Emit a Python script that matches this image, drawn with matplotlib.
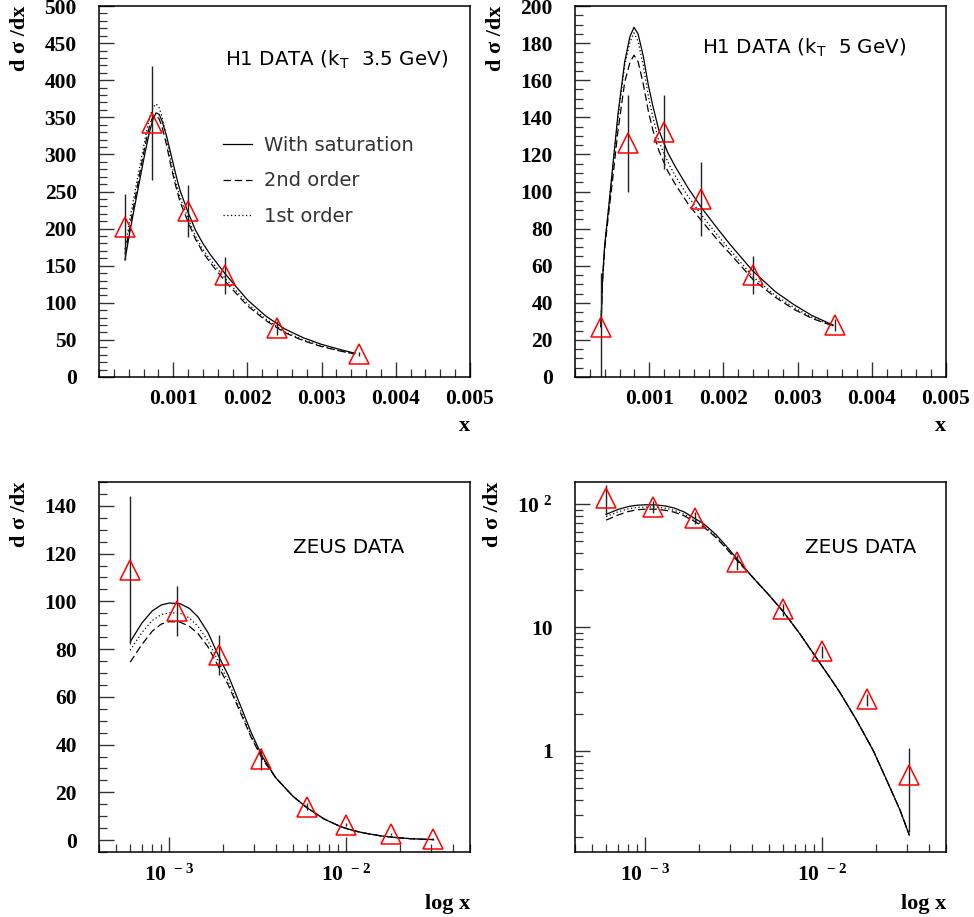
import numpy as np
import matplotlib
matplotlib.use('Agg')
import matplotlib.pyplot as plt
from matplotlib.ticker import MultipleLocator, FixedLocator, FuncFormatter, NullFormatter, LogLocator

plt.rcParams['font.family'] = 'Liberation Serif'
plt.rcParams['mathtext.fontset'] = 'custom'
plt.rcParams['mathtext.rm'] = 'Liberation Serif'
plt.rcParams['mathtext.bf'] = 'Liberation Serif:bold'
plt.rcParams['mathtext.it'] = 'DejaVu Sans'

# ---- H1 data (both panels share the x bins) ----
h1_x = [3.5e-4, 7.2e-4, 1.2e-3, 1.7e-3, 2.4e-3, 3.5e-3]
h1_35_y = [202, 342, 224, 137, 66, 31]
h1_35_err = [44, 77, 35, 25, 10, 3]
h1_5_y = [27, 126, 132, 96, 55, 28]
h1_5_err = [29, 26, 20, 20, 10, 3]

# curves for kT > 3.5 GeV
c35_x = [3.5e-4, 4.2e-4, 5.0e-4, 5.5e-4, 6.2e-4, 6.6e-4, 6.9e-4, 7.3e-4, 7.7e-4, 8.1e-4,
         8.5e-4, 9.1e-4, 9.7e-4, 1.03e-3, 1.09e-3, 1.2e-3, 1.3e-3, 1.4e-3, 1.5e-3, 1.7e-3,
         2.0e-3, 2.25e-3, 2.5e-3, 2.75e-3, 3.0e-3, 3.25e-3, 3.45e-3]
c35_sat = [158, 198, 240, 266, 302, 321, 334, 348, 356, 354,
           345, 325, 300, 275, 252, 222, 198, 180, 165, 139,
           104, 82, 65, 53, 44, 37, 32]
c35_2nd = [165, 205, 248, 275, 311, 330, 342, 351, 352, 348,
           337, 313, 284, 259, 237, 209, 186, 168, 154, 129,
           96, 76, 60, 49, 41, 35, 31]
c35_1st = [172, 215, 258, 284, 320, 340, 352, 364, 368, 363,
           350, 323, 290, 265, 243, 214, 190, 172, 158, 133,
           99, 78, 61, 50, 42, 35, 31]

# curves for kT > 5 GeV
c5_x = [3.5e-4, 3.7e-4, 4.0e-4, 4.5e-4, 5.0e-4, 5.8e-4, 6.7e-4, 7.4e-4, 7.95e-4, 8.5e-4,
        9.2e-4, 9.9e-4, 1.05e-3, 1.13e-3, 1.25e-3, 1.35e-3, 1.53e-3, 1.71e-3, 1.93e-3, 2.1e-3,
        2.4e-3, 2.7e-3, 2.95e-3, 3.2e-3, 3.48e-3]
c5_sat = [27, 52, 71, 90, 110, 142, 170, 183.5, 188.5, 185,
          173, 157, 146, 133, 121, 113.5, 101.5, 91, 79.5, 71,
          57, 46, 39, 33, 28]
c5_2nd = [27, 51, 69, 87, 104, 133, 159, 169.5, 173.5, 170,
          158, 143, 133, 122, 111, 104, 93, 84, 73.5, 66,
          52.5, 43, 36.5, 31.5, 27.5]
c5_1st = [27, 52, 71, 90, 109, 140, 168, 180.5, 185.5, 181,
          168, 151, 140, 127, 116, 108.5, 97, 87, 76, 68,
          54, 44, 37.5, 32, 27.5]

# ---- ZEUS data ----
zeus_x = [6.0e-4, 1.1e-3, 1.9e-3, 3.3e-3, 6.0e-3, 1.0e-2, 1.8e-2, 3.1e-2]
zeus_y = [113, 96, 77.5, 34, 14, 6.4, 2.6, 0.63]
zeus_err = [31, 10.5, 8.5, 4.5, 1.5, 0.7, 0.3, 0.41]

cz_x = [6.0e-4, 7.0e-4, 8.0e-4, 9.0e-4, 1.0e-3, 1.15e-3, 1.3e-3, 1.45e-3, 1.65e-3, 1.9e-3,
        2.15e-3, 2.5e-3, 2.9e-3, 3.35e-3, 4.0e-3, 5.0e-3, 6.0e-3, 7.5e-3, 9.3e-3, 1.1e-2,
        1.26e-2, 1.56e-2, 1.94e-2, 2.31e-2, 2.75e-2, 3.1e-2]
cz_sat = [83, 91, 96, 98.5, 99.3, 99, 97, 93.5, 87, 77,
          69, 57, 45, 35, 26, 18.3, 13.5, 8.8, 5.6, 3.95,
          2.95, 1.77, 1.0, 0.575, 0.328, 0.206]
cz_2nd = [74.5, 82, 87.5, 90.5, 91.5, 91.3, 89.5, 86.5, 81, 72.5,
          65, 54, 43, 34, 26, 18.3, 13.5, 8.8, 5.6, 3.95,
          2.95, 1.77, 1.0, 0.575, 0.328, 0.206]
cz_1st = [79.5, 87, 92, 94.5, 95.2, 95, 93, 89.5, 83.5, 74.5,
          66.5, 55, 43.5, 34.5, 26, 18.3, 13.5, 8.8, 5.6, 3.95,
          2.95, 1.77, 1.0, 0.575, 0.328, 0.206]

LW = 0.9
TICKC = '#333333'


def style_axes(ax):
    for s in ax.spines.values():
        s.set_linewidth(1.1)
    ax.tick_params(which='both', direction='in', top=False, right=False,
                   labelsize=15.5, color=TICKC)
    ax.tick_params(which='major', length=11, width=1.0)
    ax.tick_params(which='minor', length=6, width=0.9)
    ax.tick_params(axis='y', pad=16)
    ax.tick_params(axis='x', pad=9)
    for lab in ax.get_xticklabels() + ax.get_yticklabels():
        lab.set_fontweight('bold')
    ax.set_ylabel('d σ /dx', fontsize=16, fontweight='bold', loc='top', labelpad=10)


def draw(ax, cx, sat, nd, st, dx, dy, de):
    l1, = ax.plot(cx, sat, color='black', lw=LW, label='With saturation')
    l2, = ax.plot(cx, nd, color='black', lw=LW, dashes=(6, 3), label='2nd order')
    l3, = ax.plot(cx, st, color='black', lw=LW, dashes=(1, 2), label='1st order')
    ax.errorbar(dx, dy, yerr=de, fmt='none', ecolor='#222222', elinewidth=1.0, capsize=0)
    ax.plot(dx, dy, '^', ms=15, mfc='none', mec='red', mew=1.1)
    return [l1, l2, l3]


fig = plt.figure(figsize=(9.74, 9.17), dpi=100)
W = 371 / 974
ax1 = fig.add_axes([99 / 974, 1 - 377 / 917, W, 371 / 917])
ax2 = fig.add_axes([575 / 974, 1 - 377 / 917, W, 371 / 917])
ax3 = fig.add_axes([99 / 974, 1 - 852 / 917, W, 370 / 917])
ax4 = fig.add_axes([575 / 974, 1 - 852 / 917, W, 370 / 917])

txt = dict(family='DejaVu Sans', fontsize=14.3, color='black')

# top-left: kT > 3.5 GeV
handles = draw(ax1, c35_x, c35_sat, c35_2nd, c35_1st, h1_x, h1_35_y, h1_35_err)
ax1.set_xlim(0, 0.005)
ax1.set_ylim(0, 500)
ax1.xaxis.set_major_locator(FixedLocator([0.001, 0.002, 0.003, 0.004, 0.005]))
ax1.xaxis.set_minor_locator(MultipleLocator(0.0002))
ax1.yaxis.set_major_locator(MultipleLocator(50))
ax1.yaxis.set_minor_locator(MultipleLocator(10))
ax1.xaxis.set_major_formatter(FuncFormatter(lambda v, p: f'{v:.3f}'))
ax1.text(0.34, 0.854, r'H1 DATA (k$_\mathregular{T}$  3.5 GeV)', transform=ax1.transAxes,
         va='center', ha='left', **txt)
ax1.legend(handles=handles, loc='upper left', bbox_to_anchor=(0.335, 0.65), frameon=False,
           borderaxespad=0, borderpad=0, handlelength=1.5, handletextpad=0.6,
           labelspacing=0.85, prop=dict(family='DejaVu Sans', size=14))
for t in ax1.get_legend().get_texts():
    t.set_color('#333333')

# top-right: kT > 5 GeV
draw(ax2, c5_x, c5_sat, c5_2nd, c5_1st, h1_x, h1_5_y, h1_5_err)
ax2.set_xlim(0, 0.005)
ax2.set_ylim(0, 200)
ax2.xaxis.set_major_locator(FixedLocator([0.001, 0.002, 0.003, 0.004, 0.005]))
ax2.xaxis.set_minor_locator(MultipleLocator(0.0002))
ax2.yaxis.set_major_locator(MultipleLocator(20))
ax2.yaxis.set_minor_locator(MultipleLocator(5))
ax2.xaxis.set_major_formatter(FuncFormatter(lambda v, p: f'{v:.3f}'))
ax2.text(0.341, 0.887, r'H1 DATA (k$_\mathregular{T}$  5 GeV)', transform=ax2.transAxes,
         va='center', ha='left', **txt)

# bottom-left: ZEUS linear
draw(ax3, cz_x, cz_sat, cz_2nd, cz_1st, zeus_x, zeus_y, zeus_err)
ax3.set_xscale('log')
ax3.set_xlim(4e-4, 5e-2)
ax3.set_ylim(-5, 150)
ax3.yaxis.set_major_locator(FixedLocator(np.arange(0, 141, 20)))
ax3.yaxis.set_minor_locator(MultipleLocator(5))
ax3.text(0.523, 0.824, 'ZEUS DATA', transform=ax3.transAxes, va='center', ha='left', **txt)

# bottom-right: ZEUS log
draw(ax4, cz_x, cz_sat, cz_2nd, cz_1st, zeus_x, zeus_y, zeus_err)
ax4.set_xscale('log')
ax4.set_yscale('log')
ax4.set_xlim(4e-4, 5e-2)
ax4.set_ylim(0.15, 152)
ax4.yaxis.set_major_locator(FixedLocator([1, 10, 100]))
ax4.yaxis.set_minor_locator(LogLocator(base=10, subs=np.arange(2, 10)))
ax4.yaxis.set_minor_formatter(NullFormatter())
ax4.yaxis.set_major_formatter(FuncFormatter(
    lambda v, p: {1: '1', 10: '10', 100: r'$\mathbf{10^{\ 2}}$'}.get(int(round(v)), '')))
ax4.text(0.62, 0.824, 'ZEUS DATA', transform=ax4.transAxes, va='center', ha='left', **txt)

for ax in (ax3, ax4):
    ax.xaxis.set_major_locator(FixedLocator([1e-3, 1e-2]))
    ax.xaxis.set_minor_locator(LogLocator(base=10, subs=np.arange(2, 10)))
    ax.xaxis.set_minor_formatter(NullFormatter())
    ax.xaxis.set_major_formatter(FuncFormatter(
        lambda v, p: r'$\mathbf{10^{\ -3}}$' if v < 5e-3 else r'$\mathbf{10^{\ -2}}$'))

for ax in (ax1, ax2, ax3, ax4):
    style_axes(ax)

for ax in (ax1, ax2):
    ax.set_xlabel('x', fontsize=16, fontweight='bold', loc='right', labelpad=5)
for ax in (ax3, ax4):
    ax.set_xlabel('log x', fontsize=16, fontweight='bold', loc='right', labelpad=6)

fig.savefig('out.png', dpi=100)
